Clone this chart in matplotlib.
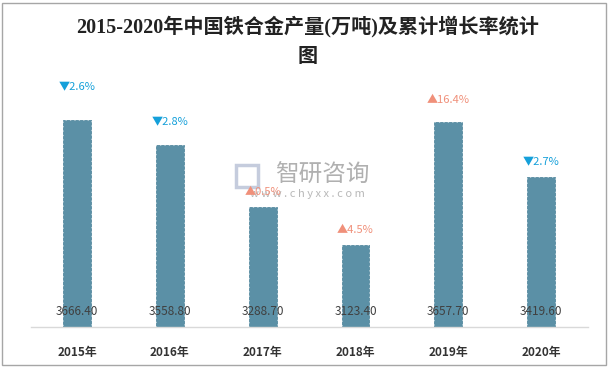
import matplotlib.pyplot as plt
from matplotlib.patches import Rectangle

plt.rcParams['font.family'] = ['Noto Sans CJK SC', 'DejaVu Sans']

# 数据
years = ['2015年', '2016年', '2017年', '2018年', '2019年', '2020年']
output = [3666.40, 3558.80, 3288.70, 3123.40, 3657.70, 3419.60]
growth = [-2.6, -2.8, 0.5, 4.5, 16.4, -2.7]

# 增长率标签离柱顶的距离 (像素)
label_gap = [33, 22, 15, 15, 22, 15]

bar_color = '#5B90A6'
up_color = '#F0907A'
down_color = '#15A0DA'

fig = plt.figure(figsize=(6.12, 3.68), dpi=100)
ax = fig.add_axes([30.6 / 612, 41 / 368, 557 / 612, 247 / 368])
ax.patch.set_alpha(0)

x = range(len(years))
ax.bar(x, output, width=0.30, color=bar_color, edgecolor='#55899F',
       linewidth=0.6, linestyle='--', zorder=2)
ax.set_ylim(2770, 3839)
ax.set_xlim(-0.5, len(years) - 0.5)

for i, v in enumerate(output):
    # 产量标签在柱子底部
    ax.annotate(f'{v:.2f}', xy=(i, 2770), xytext=(0, 15), textcoords='offset pixels',
                ha='center', va='center', fontsize=8.5, color='#404040', zorder=3)
    g = growth[i]
    sym = '▲' if g > 0 else '▼'
    col = up_color if g > 0 else down_color
    ax.annotate(f'{sym}{abs(g):.1f}%', xy=(i, v), xytext=(0, label_gap[i]),
                textcoords='offset pixels', ha='center', va='center',
                fontsize=8, color=col, zorder=3)

ax.set_xticks(list(x))
ax.set_xticklabels(years, fontsize=8.5, fontweight='bold', color='#333333')
ax.tick_params(axis='x', length=0, pad=14)
ax.set_yticks([])
for s in ['top', 'left', 'right']:
    ax.spines[s].set_visible(False)
ax.spines['bottom'].set_color('#D9D9D9')
ax.spines['bottom'].set_linewidth(1)

# 水印 (放在坐标轴下面)
fig.text(322 / 612, 1 - 175 / 368, '智研咨询', fontsize=17, color='#B0B0B0',
         ha='center', va='center', zorder=-1)
fig.text(307 / 612, 1 - 194 / 368, 'w w w . c h y x x . c o m', fontsize=8,
         color='#B8B8B8', ha='center', va='center', zorder=-1)
fig.add_artist(Rectangle((236 / 612, 1 - 187 / 368), 22 / 612, 22 / 368,
                         transform=fig.transFigure, fill=False,
                         edgecolor='#C5CCDD', linewidth=2.5, zorder=-1))

# 标题
fig.text(0.503, 1 - 27 / 368, '2015-2020年中国铁合金产量(万吨)及累计增长率统计',
         fontsize=14.5, fontweight='bold', color='#222222', ha='center', va='center',
         family=['Liberation Serif', 'Noto Sans CJK SC'])
fig.text(0.503, 1 - 55 / 368, '图', fontsize=14.5, fontweight='bold', color='#222222',
         ha='center', va='center', family=['Noto Sans CJK SC'])

# 外边框
fig.add_artist(Rectangle((2 / 612, 3 / 368), 604 / 612, 362 / 368,
                         transform=fig.transFigure, fill=False,
                         edgecolor='#A6A6A6', linewidth=1))

fig.savefig('out.png', dpi=100)
